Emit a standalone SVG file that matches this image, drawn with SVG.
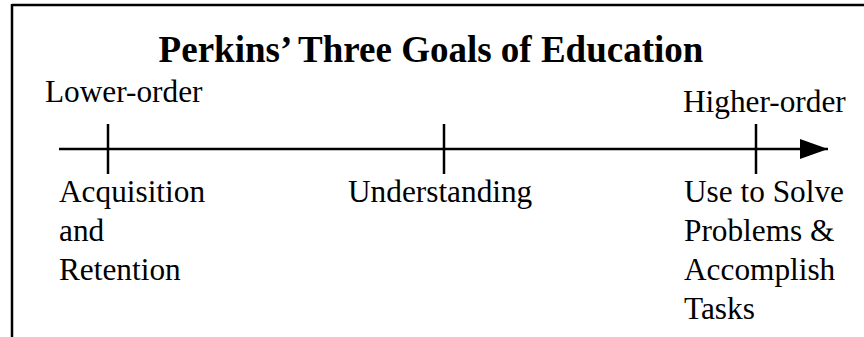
<svg xmlns="http://www.w3.org/2000/svg" width="864" height="337" viewBox="0 0 864 337">
<style>
text{font-family:"Liberation Serif","Times New Roman",serif;fill:#000;}
.t{font-size:31.3px;}
.title{font-size:37px;font-weight:bold;}
.ln{stroke:#000;stroke-width:2.5;fill:none;}
</style>
<defs>
<marker id="ah" viewBox="0 0 28 20" refX="28" refY="10" markerWidth="28" markerHeight="20" markerUnits="userSpaceOnUse" orient="auto">
<path d="M0,0 L28,10 L0,20 Z" fill="#000"/>
</marker>
</defs>
<rect width="864" height="337" fill="#fff"/>
<g id="frame">
<line class="ln" x1="12" y1="5" x2="864" y2="5"/>
<line class="ln" x1="12" y1="4" x2="12" y2="337"/>
</g>
<g id="title"><text class="title" x="431" y="62" text-anchor="middle">Perkins’ Three Goals of Education</text></g>
<g id="connectors">
<line class="ln" x1="59" y1="149" x2="828" y2="149" marker-end="url(#ah)"/>
<line class="ln" x1="108" y1="124" x2="108" y2="174"/>
<line class="ln" x1="444" y1="124" x2="444" y2="174"/>
<line class="ln" x1="756" y1="124" x2="756" y2="174"/>
</g>
<g id="lower"><text class="t" x="45" y="102">Lower-order</text></g>
<g id="higher"><text class="t" x="683" y="112">Higher-order</text></g>
<g id="acq"><text class="t" x="59" y="202">Acquisition</text><text class="t" x="59" y="241">and</text><text class="t" x="59" y="280">Retention</text></g>
<g id="und"><text class="t" x="348" y="202">Understanding</text></g>
<g id="use"><text class="t" x="684" y="202">Use to Solve</text><text class="t" x="684" y="241">Problems &amp;</text><text class="t" x="684" y="280">Accomplish</text><text class="t" x="684" y="319">Tasks</text></g>
</svg>
